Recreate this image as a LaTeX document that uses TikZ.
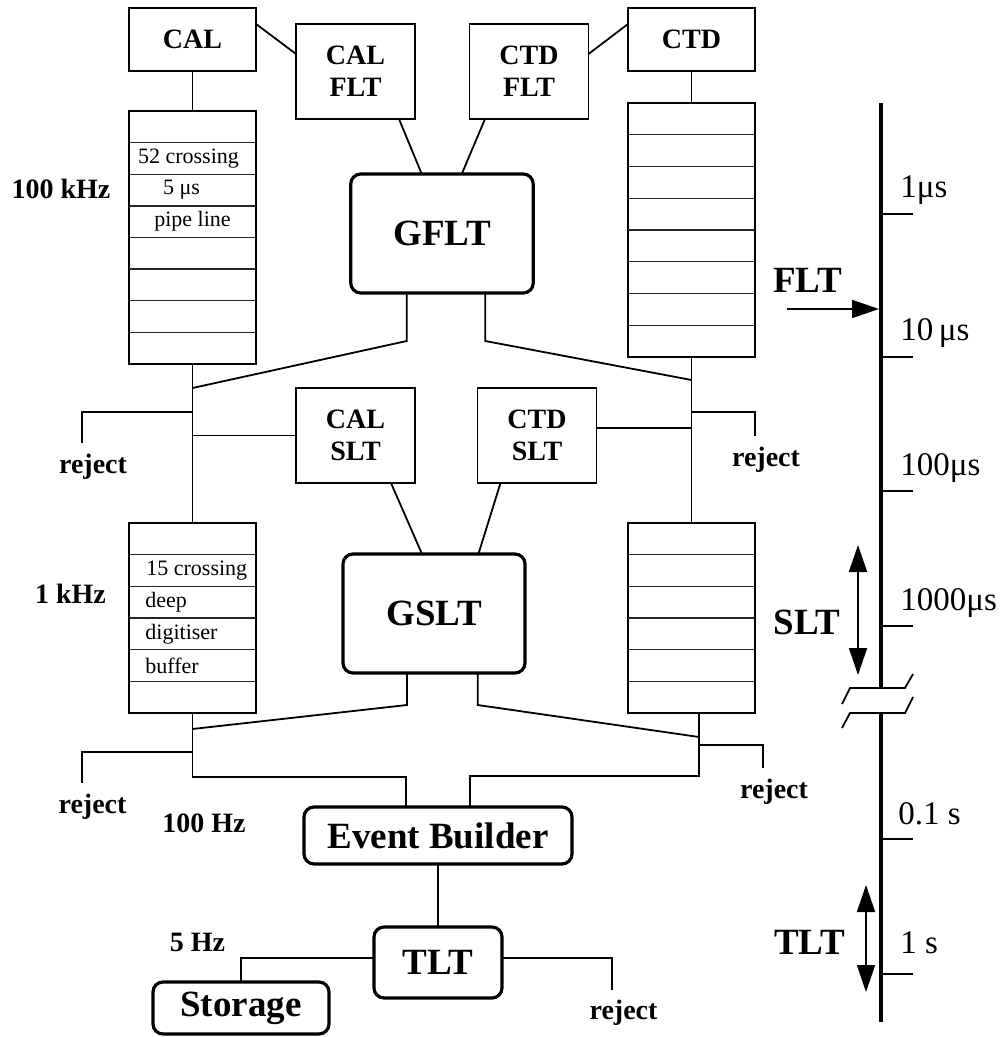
\documentclass[tikz,border=0pt]{standalone}
\usepackage{fontspec}
\setmainfont{Liberation Serif}
\usetikzlibrary{arrows.meta,calc}
\begin{document}
\begin{tikzpicture}[x=0.5pt,y=-0.5pt,
  wire/.style={line width=0.9pt},
  sep/.style={line width=0.7pt,black!85},
  plainbox/.style={draw,line width=0.9pt,inner sep=0pt,outer sep=0pt,align=center,
    font=\fontsize{14}{16}\selectfont\bfseries},
  trigbox/.style={draw,line width=1.6pt,rounded corners=5pt,inner sep=0pt,outer sep=0pt,
    font=\fontsize{18.5}{20}\selectfont\bfseries},
  pipebox/.style={draw,line width=0.9pt,inner sep=0pt,outer sep=0pt,minimum width=63.5pt},
  lbl/.style={inner sep=0pt,font=\fontsize{14}{16}\selectfont\bfseries},
  cell/.style={inner sep=0pt,font=\fontsize{11}{13}\selectfont},
  timelbl/.style={inner sep=0pt,anchor=base west,font=\fontsize{16.5}{18}\selectfont},
  biglbl/.style={inner sep=0pt,font=\fontsize{18.5}{20}\selectfont\bfseries},
  axisline/.style={line width=1.6pt},
  onehead/.style={-{Triangle[length=13.5pt,width=9pt]},line width=0.9pt},
  twohead/.style={{Triangle[length=13.5pt,width=9pt]}-{Triangle[length=13.5pt,width=9pt]},line width=0.9pt}]
\useasboundingbox (0,0) rectangle (1007,1037);

% detector components and local trigger boxes
\node[plainbox,minimum width=63.5pt,minimum height=31.5pt] (cal) at (192.5,39.5) {CAL};
\node[plainbox,minimum width=63.5pt,minimum height=31.5pt] (ctd) at (691.5,39.5) {CTD};
\node[plainbox,minimum width=59.5pt,minimum height=47.5pt] (calflt) at (355.5,71.5) {CAL\\FLT};
\node[plainbox,minimum width=59.5pt,minimum height=47.5pt] (ctdflt) at (529,71.5) {CTD\\FLT};
\node[plainbox,minimum width=59.5pt,minimum height=47.5pt] (calslt) at (355.5,435.5) {CAL\\SLT};
\node[plainbox,minimum width=59.5pt,minimum height=47.5pt] (ctdslt) at (537,435.5) {CTD\\SLT};

% global trigger stages
\node[trigbox,minimum width=91.25pt,minimum height=59.5pt] (gflt) at (442,233.5) {GFLT};
\node[trigbox,minimum width=91pt,minimum height=59.5pt] (gslt) at (434,613.5) {GSLT};
\node[trigbox,minimum width=134pt,minimum height=28.5pt] (eb) at (438,835.5) {Event Builder};
\node[trigbox,minimum width=64pt,minimum height=35.5pt] (tlt) at (438,962.5) {TLT};
\node[trigbox,minimum width=88pt,minimum height=26pt] (storage) at (241,1008) {Storage};

% pipelines and buffers
\node[pipebox,minimum height=126.5pt] (pipeL) at (192.5,237.5) {};
\node[pipebox,minimum height=127pt] (pipeR) at (691.5,230) {};
\node[pipebox,minimum height=95pt] (bufL) at (192.5,618) {};
\node[pipebox,minimum height=95pt] (bufR) at (691.5,618) {};
\foreach \p in {pipeL,pipeR}
  \foreach \i in {1,...,7}
    \draw[sep] ($(\p.north west)!\i/8!(\p.south west)$) -- ($(\p.north east)!\i/8!(\p.south east)$);
\foreach \p in {bufL,bufR}
  \foreach \i in {1,...,5}
    \draw[sep] ($(\p.north west)!\i/6!(\p.south west)$) -- ($(\p.north east)!\i/6!(\p.south east)$);

\node[cell] (c1) at ($(pipeL.north)!1.5/8!(pipeL.south)+(-4,0)$) {52 crossing};
\node[cell] (c2) at ($(pipeL.north)!2.5/8!(pipeL.south)+(-11,0)$) {5 μs};
\node[cell] (c3) at ($(pipeL.north)!3.5/8!(pipeL.south)$) {pipe line};
\node[cell,anchor=west] (d1) at ($(bufL.north west)!1.5/6!(bufL.south west)+(17,0)$) {15 crossing};
\node[cell,anchor=west] (d2) at ($(bufL.north west)!2.5/6!(bufL.south west)+(16,0)$) {deep};
\node[cell,anchor=west] (d3) at ($(bufL.north west)!3.5/6!(bufL.south west)+(16,0)$) {digitiser};
\node[cell,anchor=west] (d4) at ($(bufL.north west)!4.5/6!(bufL.south west)+(16,0)$) {buffer};

% rate labels and reject labels
\node[lbl] (r100k) at (61,189) {100 kHz};
\node[lbl] (r1k) at (70.5,594) {1 kHz};
\node[lbl] (r100) at (204,823) {100 Hz};
\node[lbl] (r5) at (197.5,942) {5 Hz};
\node[lbl] (rejA) at (93,467) {reject};
\node[lbl] (rejB) at (766,460) {reject};
\node[lbl] (rejC) at (92.5,807) {reject};
\node[lbl] (rejD) at (774,792) {reject};
\node[lbl] (rejE) at (623.5,1013) {reject};

% junction points on the data paths
\coordinate (tL1) at (192.5,388);
\coordinate (tR1) at (691.5,380);
\coordinate (rL1) at (192.5,412);
\coordinate (rL1e) at (82,443);
\coordinate (rR1) at (691.5,412);
\coordinate (rR1e) at (755,436);
\coordinate (sR) at (691.5,428);
\coordinate (tL2) at (192.5,729);
\coordinate (tR2) at (699,737);
\coordinate (rL2) at (192.5,752);
\coordinate (rL2e) at (82,783);
\coordinate (rR2) at (699,745);
\coordinate (rR2e) at (763,768);
\coordinate (bL) at (192.5,777);
\coordinate (bR) at (699,776);
\coordinate (rT) at (612,990);

% first level connections
\draw[wire] (cal) -- (pipeL);
\draw[wire] (ctd) -- (pipeR);
\draw[wire] ($(cal.north east)+(0,16)$) -- ($(calflt.north west)+(0,30)$);
\draw[wire] ($(ctdflt.north east)+(0,30)$) -- ($(ctd.north west)+(0,16)$);
\draw[wire] ($(calflt.south west)+(103,0)$) -- ($(gflt.north west)+(71,0)$);
\draw[wire] ($(ctdflt.south west)+(15.5,0)$) -- ($(gflt.north west)+(111,0)$);
\draw[wire] ($(gflt.south west)+(56,0)$) -- ++(0,48) -- (tL1);
\draw[wire] ($(gflt.south west)+(134.5,0)$) -- ++(0,48) -- (tR1);
\draw[wire] (pipeL) -- (bufL);
\draw[wire] (pipeR) -- (bufR);
\draw[wire] (rL1) -| (rL1e);
\draw[wire] (rR1) -| (rR1e);

% second level connections
\draw[wire] (calslt.west -| tL1) -- (calslt.west);
\draw[wire] (sR -| ctdslt.east) -- (sR);
\draw[wire] ($(calslt.south west)+(95,0)$) -- ($(gslt.north west)+(79,0)$);
\draw[wire] ($(ctdslt.south west)+(23,0)$) -- ($(gslt.north west)+(135.4,0)$);
\draw[wire] ($(gslt.south west)+(64,0)$) -- ++(0,32) -- (tL2);
\draw[wire] ($(gslt.south west)+(134.7,0)$) -- ++(0,32) -- (tR2);
\draw[wire] (bufL.south) -- (bL) -| ($(eb.north west)+(102,0)$);
\draw[wire] (bufR.south -| bR) -- (bR) -| ($(eb.north west)+(166,0)$);
\draw[wire] (rL2) -| (rL2e);
\draw[wire] (rR2) -| (rR2e);

% third level connections
\draw[wire] (eb) -- (tlt);
\draw[wire] ($(tlt.west)+(0,-4.5)$) -| (storage.north);
\draw[wire] ($(tlt.east)+(0,-4.5)$) -| (rT);

% time axis with break
\coordinate (axTop) at (881,103);
\coordinate (axBrk1) at (881,688);
\coordinate (axBrk2) at (881,713);
\coordinate (axBot) at (881,1022);
\draw[axisline] (axTop) -- (axBrk1);
\draw[axisline] (axBrk2) -- (axBot);
\draw[wire] (842,704) -- (850,688) -- (905,688) -- (913,674);
\draw[wire] (842,728) -- (850,713) -- (905,713) -- (913,697);
\foreach \y in {214,357,491,626,839,974}
  \draw[wire] (881,\y) -- (913,\y);
\node[timelbl] (t1) at (900,198) {1μs};
\node[timelbl] (t2) at (900,341) {10\,μs};
\node[timelbl] (t3) at (900,475) {100μs};
\node[timelbl] (t4) at (900,610) {1000μs};
\node[timelbl] (t5) at (898,824) {0.1 s};
\node[timelbl] (t6) at (900,953) {1 s};

% trigger level markers on the axis
\node[biglbl] (fltL) at (807.5,280) {FLT};
\node[biglbl] (sltL) at (806.7,622) {SLT};
\node[biglbl] (tltL) at (809.5,942) {TLT};
\coordinate (fltA) at (787,309);
\draw[onehead] (fltA) -- ($(fltA -| axTop)+(-2,0)$);
\coordinate (sltA1) at (858,545);
\coordinate (sltA2) at (858,675);
\draw[twohead] (sltA1) -- (sltA2);
\coordinate (tltA1) at (866,885);
\coordinate (tltA2) at (866,992);
\draw[twohead] (tltA1) -- (tltA2);
\end{tikzpicture}
\end{document}
